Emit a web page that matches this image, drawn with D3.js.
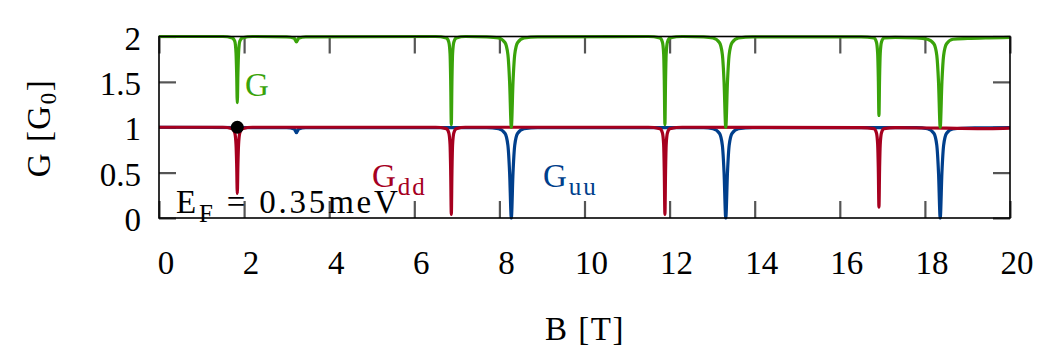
<!DOCTYPE html>
<html>
<head>
<script src="https://cdnjs.cloudflare.com/ajax/libs/d3/7.8.5/d3.min.js"></script>
<style>
body {margin: 0; background: #fff;}
text {font-family: "Liberation Serif", serif;}
.tk line {stroke: #555555; stroke-width: 2.2px;}
.tk path {display: none;}
</style>
</head>
<body>
<svg id="chart" width="1063" height="355"></svg>
<script>
// tick values
var xTicks = [0, 2, 4, 6, 8, 10, 12, 14, 16, 18, 20];
var yTicks = [0, 0.5, 1, 1.5, 2];
var yTickLabels = ["0", "0.5", "1", "1.5", "2"];

// G_uu (spin up) : [B, G]
var guu = [[0,1],[3.0,0.995],[3.18,0.98],[3.23,0.94],[3.28,0.98],[3.45,0.995],
  [7.7,0.995],[7.98,0.983],[8.13,0.934],[8.2,0.8],[8.24,0.5],[8.28,0.0],[8.32,0.5],[8.36,0.8],[8.43,0.934],[8.58,0.983],[8.9,0.995],
  [12.8,0.995],[13.02,0.983],[13.17,0.934],[13.24,0.8],[13.28,0.5],[13.32,0.0],[13.36,0.5],[13.4,0.8],[13.47,0.934],[13.62,0.983],[13.95,0.995],
  [17.8,0.995],[18.06,0.983],[18.21,0.934],[18.28,0.8],[18.32,0.5],[18.36,0.0],[18.4,0.5],[18.44,0.8],[18.51,0.934],[18.66,0.983],[19.2,0.993],[20,0.997]];

// G_dd (spin down)
var gdd = [[0,1],[1.5,1],[1.72,0.985],[1.78,0.94],[1.81,0.81],[1.825,0.6],[1.84,0.27],[1.855,0.6],[1.87,0.81],[1.9,0.94],[1.96,0.985],[2.2,1],
  [6.5,1],[6.75,0.985],[6.81,0.94],[6.84,0.81],[6.855,0.52],[6.87,0.04],[6.885,0.52],[6.9,0.81],[6.93,0.94],[6.99,0.985],[7.2,1],
  [11.5,1],[11.77,0.985],[11.83,0.94],[11.86,0.81],[11.875,0.52],[11.89,0.04],[11.905,0.52],[11.92,0.81],[11.95,0.94],[12.01,0.985],[12.3,1],
  [16.5,0.995],[16.8,0.985],[16.86,0.94],[16.89,0.81],[16.905,0.55],[16.92,0.12],[16.935,0.55],[16.95,0.81],[16.98,0.94],[17.04,0.985],[17.3,0.995],
  [18.5,0.99],[19.5,0.985],[20,0.99]];

// G total
var gtot = [[0,2],[1.5,2],[1.72,1.985],[1.78,1.95],[1.81,1.82],[1.825,1.6],[1.84,1.27],[1.855,1.6],[1.87,1.82],[1.9,1.95],[1.96,1.985],[2.2,2],
  [3.0,1.995],[3.18,1.98],[3.23,1.94],[3.28,1.98],[3.45,1.995],
  [6.5,2],[6.75,1.985],[6.81,1.94],[6.84,1.81],[6.855,1.52],[6.87,1.03],[6.885,1.52],[6.9,1.81],[6.93,1.94],[6.99,1.985],[7.2,2],
  [7.7,1.995],[7.98,1.983],[8.13,1.934],[8.2,1.8],[8.24,1.5],[8.28,1.0],[8.32,1.5],[8.36,1.8],[8.43,1.934],[8.58,1.983],[8.9,1.995],
  [11.5,2],[11.77,1.985],[11.83,1.94],[11.86,1.81],[11.875,1.52],[11.89,1.03],[11.905,1.52],[11.92,1.81],[11.95,1.94],[12.01,1.985],[12.3,2],
  [12.8,1.995],[13.02,1.983],[13.17,1.934],[13.24,1.8],[13.28,1.5],[13.32,1.0],[13.36,1.5],[13.4,1.8],[13.47,1.934],[13.62,1.983],[13.95,1.995],
  [16.5,1.995],[16.8,1.985],[16.86,1.94],[16.89,1.81],[16.905,1.55],[16.92,1.13],[16.935,1.55],[16.95,1.81],[16.98,1.94],[17.04,1.985],[17.3,1.99],
  [17.8,1.985],[18.06,1.97],[18.21,1.92],[18.28,1.79],[18.32,1.5],[18.36,1.0],[18.4,1.5],[18.44,1.79],[18.51,1.92],[18.66,1.97],[19.0,1.978],[19.5,1.985],[20,1.99]];

var marker = [1.84, 1];

var svg = d3.select("#chart");
var pLeft = 159, pRight = 1010, pTop = 36.5, pBottom = 218;

var x = d3.scaleLinear().domain([0, 20]).range([pLeft, pRight]);
var y = d3.scaleLinear().domain([0, 2]).range([pBottom, pTop]);

// inward ticks on all four sides
var tl = 17;
svg.append("g").attr("class", "tk").attr("transform", "translate(0," + pBottom + ")")
  .call(d3.axisBottom(x).tickValues(xTicks).tickSize(-tl).tickFormat(""));
svg.append("g").attr("class", "tk").attr("transform", "translate(0," + pTop + ")")
  .call(d3.axisTop(x).tickValues(xTicks).tickSize(-tl).tickFormat(""));
svg.append("g").attr("class", "tk").attr("transform", "translate(" + pLeft + ",0)")
  .call(d3.axisLeft(y).tickValues(yTicks).tickSize(-tl).tickFormat(""));
svg.append("g").attr("class", "tk").attr("transform", "translate(" + pRight + ",0)")
  .call(d3.axisRight(y).tickValues(yTicks).tickSize(-tl).tickFormat(""));

var curve = d3.line().x(function(d) { return x(d[0]); }).y(function(d) { return y(d[1]); })
  .curve(d3.curveMonotoneX);

var series = svg.append("g");
series.append("path").datum(guu).attr("d", curve).attr("fill", "none")
  .attr("stroke", "#003f8c").attr("stroke-width", 3.2);
series.append("path").datum(gdd).attr("d", curve).attr("fill", "none")
  .attr("stroke", "#a6001f").attr("stroke-width", 3.2);
series.append("path").datum(gtot).attr("d", curve).attr("fill", "none")
  .attr("stroke", "#3aa30a").attr("stroke-width", 3.2);

// frame
svg.append("rect").attr("x", pLeft).attr("y", pTop).attr("width", pRight - pLeft).attr("height", pBottom - pTop)
  .attr("fill", "none").attr("stroke", "#000").attr("stroke-width", 1.6);

svg.append("circle").attr("cx", x(marker[0])).attr("cy", y(marker[1])).attr("r", 6.5).attr("fill", "#000");

// tick labels
svg.append("g").selectAll("text").data(xTicks).enter().append("text")
  .attr("x", function(d) { return x(d) + 7; })
  .attr("y", 274).attr("text-anchor", "middle").attr("font-size", 33)
  .text(function(d) { return d; });
svg.append("g").selectAll("text").data(yTicks).enter().append("text")
  .attr("x", 141).attr("y", function(d) { return y(d) + 13; })
  .attr("text-anchor", "end").attr("font-size", 33)
  .text(function(d, i) { return yTickLabels[i]; });

// axis labels
svg.append("text").attr("x", 585).attr("y", 340).attr("text-anchor", "middle").attr("font-size", 33)
  .attr("letter-spacing", 1.5).text("B [T]");
var yl = svg.append("text").attr("transform", "translate(50,128) rotate(-90)").attr("text-anchor", "middle")
  .attr("font-size", 33).attr("letter-spacing", 1.5);
yl.append("tspan").text("G [G");
yl.append("tspan").attr("font-size", 23).attr("dy", 6).text("0");
yl.append("tspan").attr("dy", -6).text("]");

// curve labels
svg.append("text").attr("x", 245).attr("y", 96).attr("font-size", 33).attr("fill", "#3aa30a").text("G");
var ld = svg.append("text").attr("x", 372).attr("y", 187).attr("font-size", 33).attr("fill", "#a6001f")
  .attr("letter-spacing", 2);
ld.append("tspan").text("G");
ld.append("tspan").attr("font-size", 25).attr("dy", 8).text("dd");
var lu = svg.append("text").attr("x", 543).attr("y", 187).attr("font-size", 33).attr("fill", "#003f8c")
  .attr("letter-spacing", 2);
lu.append("tspan").text("G");
lu.append("tspan").attr("font-size", 25).attr("dy", 8).text("uu");
var le = svg.append("text").attr("x", 176).attr("y", 213).attr("font-size", 33).attr("fill", "#000")
  .attr("letter-spacing", 2.8);
le.append("tspan").text("E");
le.append("tspan").attr("font-size", 25).attr("dy", 9).text("F");
le.append("tspan").attr("dy", -9).text(" = 0.35meV");
</script>
</body>
</html>
